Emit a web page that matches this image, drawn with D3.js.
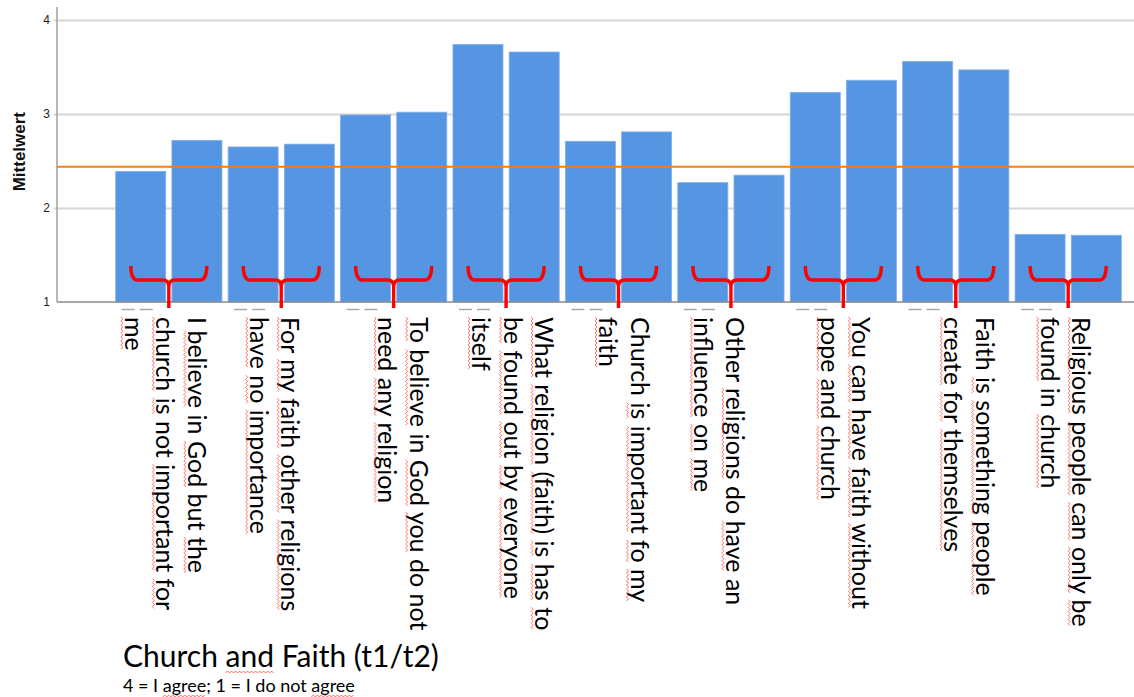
<!DOCTYPE html>
<html><head><meta charset="utf-8">
<script src="https://cdn.jsdelivr.net/npm/d3@7"></script>
<style>body{margin:0;background:#fff;overflow:hidden}</style>
</head><body><svg id="c" width="1134" height="697"></svg>
<script>
// ---- data ----
const categories = [
  ["I believe in God but the", "church is not important for", "me"],
  ["For my faith other religions", "have no importance"],
  ["To believe in God you do not", "need any religion"],
  ["What religion (faith) is has to", "be found out by everyone", "itself"],
  ["Church is important fo my", "faith"],
  ["Other religions do have an", "influence on me"],
  ["You can have faith without", "pope and church"],
  ["Faith is something people", "create for themselves"],
  ["Religious people can only be", "found in church"]
];
const t1 = [2.39, 2.65, 2.99, 3.74, 2.71, 2.27, 3.23, 3.56, 1.72];
const t2 = [2.72, 2.68, 3.02, 3.66, 2.81, 2.35, 3.36, 3.47, 1.71];
const meanValue = 2.44;
const yTicks = [1, 2, 3, 4];
const yLabel = "Mittelwert";
const title = "Church and Faith (t1/t2)";
const subtitle = "4 = I agree; 1 = I do not agree";
const plainWords = ["I", "in", "but", "do", "not", "an", "Other", "Church", "Faith"];
// ---- layout (first label line offset from group centre) ----
const labelShift = [28, 9, 25, 38, 21, 4, 18, 29, 13];

const svg = d3.select("#c");
const W = 1134;
const axisX = 57;

const bars = [];
categories.forEach((c, i) => {
  bars.push({cat: i, t: "t1", v: t1[i]});
  bars.push({cat: i, t: "t2", v: t2[i]});
});
const key = d => d.cat + "-" + d.t;
const x = d3.scaleBand().domain(bars.map(key)).range([115.7, 1121.3]).paddingInner(0.11).paddingOuter(0);
const y = d3.scaleLinear().domain([1, 4.15]).range([302, 6]);

// gridlines + tick labels
const ax = svg.append("g").attr("transform", `translate(${axisX},0)`)
  .call(d3.axisLeft(y).tickValues(yTicks).tickFormat(d3.format("d")).tickSize(-(W - axisX)).tickPadding(7));
ax.select(".domain").remove();
ax.selectAll(".tick line").attr("stroke", "#d6d6d6").attr("stroke-width", 2).attr("x1", -3);
ax.selectAll(".tick text").attr("font-family", "Liberation Sans, Arial, sans-serif").attr("font-size", 12).attr("fill", "#222");
ax.selectAll(".tick").filter(d => d === 1).select("line").attr("stroke", "none");

// bars
svg.append("g").selectAll("rect").data(bars).join("rect")
  .attr("x", d => x(key(d)))
  .attr("width", x.bandwidth())
  .attr("y", d => y(d.v))
  .attr("height", d => y(1) - y(d.v))
  .attr("fill", "#5595e2")
  .attr("stroke", "#7fb0ec").attr("stroke-width", 0.8);

// axes lines
svg.append("line").attr("x1", axisX).attr("x2", axisX).attr("y1", y(4.15) + 1).attr("y2", y(1))
  .attr("stroke", "#a6a6a6").attr("stroke-width", 1.6);
svg.append("line").attr("x1", axisX).attr("x2", W).attr("y1", y(1)).attr("y2", y(1))
  .attr("stroke", "#8a8a8a").attr("stroke-width", 1.4);

// mean line
svg.append("line").attr("x1", axisX).attr("x2", W).attr("y1", y(meanValue)).attr("y2", y(meanValue))
  .attr("stroke", "#ef7d22").attr("stroke-width", 2);

// y label
svg.append("text").attr("transform", `translate(25,${y(2.6)}) rotate(-90)`)
  .attr("text-anchor", "middle").attr("font-family", "Liberation Sans, Arial, sans-serif")
  .attr("font-weight", "bold").attr("font-size", 17).attr("fill", "#111").text(yLabel);

// group geometry
const groups = categories.map((lines, i) => {
  const a = x(i + "-t1"), b = x(i + "-t2") + x.bandwidth();
  return {i, lines, left: a, cx: (a + b) / 2};
});

// faint hidden-label dashes
const dash = svg.append("g").attr("stroke", "#a8a8a8").attr("stroke-width", 1.5);
groups.forEach(g => {
  dash.append("line").attr("x1", g.left + 6).attr("x2", g.left + 19).attr("y1", y(1) + 7.5).attr("y2", y(1) + 7.5);
  dash.append("line").attr("x1", g.left + 24).attr("x2", g.left + 37).attr("y1", y(1) + 7.5).attr("y2", y(1) + 7.5);
});

// braces
const bY = y(1) - 22, armTop = y(1) - 36, stemBot = y(1) + 6, hw = 38;
svg.append("g").selectAll("path").data(groups).join("path")
  .attr("d", g => {
    const c = g.cx, l = c - hw, r = c + hw;
    return `M${l},${armTop} Q${l},${bY} ${l + 7},${bY} L${c - 6},${bY} Q${c},${bY} ${c},${bY + 7} L${c},${stemBot}` +
           ` M${c},${bY + 7} Q${c},${bY} ${c + 6},${bY} L${r - 7},${bY} Q${r},${bY} ${r},${armTop}`;
  })
  .attr("fill", "none").attr("stroke", "#ff0000").attr("stroke-width", 3.4).attr("stroke-linejoin", "round");

// squiggle helper (in text coordinates)
function squiggle(sel, x0, x1, yy) {
  const pts = [];
  for (let k = 0, xx = x0; xx <= x1; k++, xx += 2) pts.push([xx, yy + (k % 2 ? -1 : 1)]);
  sel.append("polyline").attr("points", pts.map(p => p.join(",")).join(" "))
    .attr("fill", "none").attr("stroke", "#ff3b3b").attr("stroke-width", 0.9).attr("opacity", 0.8);
}

const FONT = "Lato, 'Open Sans', sans-serif";
const lineGap = 31.5, textTop = 317;
groups.forEach(g => {
  g.lines.forEach((ln, k) => {
    const gx = g.cx + labelShift[g.i] - k * lineGap;
    const tg = svg.append("g").attr("transform", `translate(${gx},${textTop}) rotate(90)`);
    const t = tg.append("text").attr("x", 0).attr("y", 0).attr("dy", "0.36em")
      .attr("font-family", FONT).attr("font-size", 25).attr("fill", "#000").text(ln);
    const node = t.node();
    let idx = 0;
    ln.split(" ").forEach(w => {
      const s = ln.indexOf(w, idx);
      idx = s + w.length;
      if (plainWords.includes(w)) return;
      const x0 = s ? node.getSubStringLength(0, s) : 0;
      const x1 = node.getSubStringLength(0, s + w.length);
      squiggle(tg, x0, x1, 12);
    });
  });
});

// title + subtitle
const tt = svg.append("text").attr("x", 123).attr("y", 667).attr("font-family", FONT)
  .attr("font-size", 30).attr("fill", "#000").text(title);
const st = svg.append("text").attr("x", 123).attr("y", 692).attr("font-family", FONT)
  .attr("font-size", 18).attr("fill", "#000").text(subtitle);
{
  const n = tt.node(), s = title.indexOf("and");
  squiggle(svg, 123 + n.getSubStringLength(0, s), 123 + n.getSubStringLength(0, s + 3), 672);
  const m = st.node();
  [subtitle.indexOf("agree"), subtitle.lastIndexOf("agree")].forEach(s2 =>
    squiggle(svg, 123 + m.getSubStringLength(0, s2), 123 + m.getSubStringLength(0, s2 + 5), 696));
}
</script></body></html>
